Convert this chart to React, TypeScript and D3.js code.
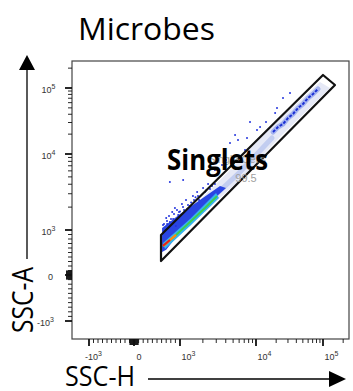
import React from 'react';
import * as d3 from 'd3';

// ---- axis ticks ----
const majorTicks = [-1000, 0, 1000, 10000, 100000];
const majorBase = ['-10', '0', '10', '10', '10'];
const majorExp = ['3', '', '3', '4', '5'];

// ---- data (SSC-H, SSC-A) ----
const gate: [number, number][] = [[587, 889], [100000, 157400], [151000, 111000], [587, 311]];
const paleBand: [number, number][] = [
  [1438, 1947], [4550, 6150], [16170, 24800], [90200, 123300], [127200, 100000],
  [22800, 18100], [6150, 4550], [3573, 2800], [2134, 1725],
];
const midBand: [number, number][] = [[2134, 2138], [6150, 5800], [17330, 17500]];
const blueCore: [number, number][] = [
  [610, 1060], [1000, 1620], [1830, 2480], [3360, 3790], [4030, 3570],
  [2340, 2200], [1160, 1130], [700, 560], [610, 510],
];
const cyanBand: [number, number][] = [
  [630, 711], [1355, 1396], [2979, 3070], [3260, 2637], [1355, 1129], [674, 578],
];
const greenLine: [number, number][] = [[630, 644], [891, 867], [1355, 1274], [2134, 1947], [3070, 2800]];
const orangeLine: [number, number][] = [[630, 644], [913, 889]];
const redLine: [number, number][] = [[630, 650], [783, 778]];
const streak: [number, number][] = [
  [17950, 21540], [21300, 25650], [25300, 28500], [30070, 35100], [35650, 40400],
  [42400, 49800], [50250, 57300], [59700, 70500], [70900, 81100], [84200, 96600],
];
const dots: [number, number][] = [
  [630, 1160], [700, 1440], [780, 1270], [830, 1730], [890, 1950], [960, 1570],
  [1060, 2200], [1200, 2480], [1350, 2070], [1480, 2800], [1680, 3160], [2010, 3570],
  [2340, 4030], [2640, 3790], [740, 1060], [910, 1130], [1130, 1830], [1780, 2480],
  [780, 4290], [1100, 4550], [4550, 14700], [5300, 19400], [5800, 16300], [7620, 17500],
  [8340, 30500], [10350, 23100], [11500, 25700], [19300, 41800], [20600, 49800],
  [25300, 70500], [32200, 84000], [14100, 30500], [7160, 11500], [4030, 8340],
  [2884, 6150], [3570, 7160], [660, 990], [720, 1200], [850, 1400], [1000, 1750],
  [1250, 1900], [1400, 2300], [1600, 2700], [2200, 3300],
  [652, 1199], [717, 1313], [804, 1396], [870, 1624], [978, 1725], [1095, 2010],
  [1274, 2134], [1528, 2483], [1725, 2800], [2134, 3162], [2483, 3460], [2884, 4030],
  [761, 1528], [935, 1833],
];

const tf = (v: number) =>
  Math.abs(v) <= 1000 ? v / 1000 : Math.sign(v) * (1 + Math.log10(Math.abs(v) / 1000));
const xS = d3.scaleLinear().domain([-1, 0, 1, 2, 3]).range([89, 134, 180, 256, 323]);
const yS = d3.scaleLinear().domain([-1, 0, 1, 2, 3]).range([321, 275, 230, 154, 88]);
const X = (v: number) => xS(tf(v));
const Y = (v: number) => yS(tf(v));

const line = d3.line<[number, number]>().x((d) => X(d[0])).y((d) => Y(d[1]));
const poly = d3.line<[number, number]>().x((d) => X(d[0])).y((d) => Y(d[1])).curve(d3.curveLinearClosed);

const L = 72, R = 349, T = 61, B = 339;

function minorTicks(): { v: number; len: number }[] {
  const out: { v: number; len: number }[] = [];
  for (let i = 1; i <= 9; i++) {
    out.push({ v: i * 100, len: 4 }, { v: -i * 100, len: 4 });
    out.push({ v: i * 10, len: 6 }, { v: -i * 10, len: 6 });
  }
  [1000, 10000, 100000].forEach((d) => {
    for (let i = 2; i <= 9; i++) out.push({ v: d * i, len: 4 });
  });
  return out;
}

export default function App() {
  const minors = minorTicks();
  const font = "'Open Sans', 'Noto Sans', sans-serif";
  const tickFont = "'Liberation Sans Narrow', 'Liberation Sans', Arial, sans-serif";
  return (
    <svg width={353} height={391} style={{ position: 'absolute', left: 0, top: 0, background: '#fff' }}>
      <rect x={0} y={0} width={353} height={391} fill="#fff" />
      <text x={78} y={40} fontFamily={font} fontSize={31} textLength={137} lengthAdjust="spacingAndGlyphs">Microbes</text>

      {/* frame */}
      <rect x={L} y={T} width={R - L} height={B - T} fill="none" stroke="#444" strokeWidth={1.2} />

      {/* y ticks */}
      {minors.filter((m) => Y(m.v) > T && Y(m.v) < B).map((m, i) => (
        <line key={'ym' + i} x1={L - m.len} x2={L} y1={Y(m.v)} y2={Y(m.v)} stroke="#111" strokeWidth={0.9} />
      ))}
      {majorTicks.map((v, i) => (
        <line key={'yM' + i} x1={L - 7} x2={L} y1={Y(v)} y2={Y(v)} stroke="#111" strokeWidth={1.8} />
      ))}
      {majorTicks.map((v, i) => (
        <text key={'yl' + i} x={v === 0 ? 53 : v < 0 ? 54 : 55.5} y={Y(v) + 5} textAnchor="end" fontFamily={tickFont} fontSize={9} fill="#333">
          {majorBase[i]}
          {majorExp[i] && <tspan dy={-4} fontSize={7}>{majorExp[i]}</tspan>}
        </text>
      ))}

      {/* x ticks */}
      {minors.filter((m) => X(m.v) > L && X(m.v) < R).map((m, i) => (
        <line key={'xm' + i} x1={X(m.v)} x2={X(m.v)} y1={B} y2={B + m.len} stroke="#111" strokeWidth={0.9} />
      ))}
      {majorTicks.map((v, i) => (
        <line key={'xM' + i} x1={X(v)} x2={X(v)} y1={B} y2={B + 7} stroke="#111" strokeWidth={1.8} />
      ))}
      {majorTicks.map((v, i) => (
        <text key={'xl' + i} x={X(v) + (v < 0 ? -4 : v === 0 ? 2.5 : 1.5)} y={360} textAnchor="start" fontFamily={tickFont} fontSize={9} fill="#333">
          {majorBase[i]}
          {majorExp[i] && <tspan dy={-4} fontSize={7}>{majorExp[i]}</tspan>}
        </text>
      ))}

      {/* density */}
      <path d={poly(paleBand) || ''} fill="#e6e9f6" />
      <path d={line(midBand) || ''} fill="none" stroke="#b9c5ef" strokeWidth={5} strokeLinecap="round" opacity={0.8} />
      <path d={line(streak) || ''} fill="none" stroke="#a5b4f0" strokeWidth={5} strokeLinecap="round" />
      <path d={line(streak) || ''} fill="none" stroke="#1b2fd4" strokeWidth={2} strokeDasharray="3 1.5" />
      <path d={poly(blueCore) || ''} fill="#2a45e2" />
      <path d={poly(cyanBand) || ''} fill="#35b4ee" />
      <path d={line(greenLine) || ''} fill="none" stroke="#3ecf4c" strokeWidth={1.8} />
      <path d={line(orangeLine) || ''} fill="none" stroke="#ff8a10" strokeWidth={2.3} />
      <path d={line(redLine) || ''} fill="none" stroke="#e32020" strokeWidth={2} />
      {dots.map((d, i) => (
        <circle key={'d' + i} cx={X(d[0])} cy={Y(d[1])} r={1} fill="#2233dd" />
      ))}

      {/* gate */}
      <path d={poly(gate) || ''} fill="none" stroke="#111" strokeWidth={2.2} strokeLinejoin="round" />

      {/* gate label */}
      <text x={237} y={163} textAnchor="middle" fontFamily="'Liberation Sans', Arial, sans-serif" fontSize={11} fill="#a0a0a0">Single Cells</text>
      <text x={246} y={182} textAnchor="middle" fontFamily="'Liberation Sans', Arial, sans-serif" fontSize={11} fill="#a0a0a0">99.5</text>
      <text x={167} y={170} fontFamily={font} fontWeight="bold" fontSize={29} textLength={101} lengthAdjust="spacingAndGlyphs">Singlets</text>

      {/* axis titles & arrows */}
      <line x1={27} x2={27} y1={259} y2={68} stroke="#000" strokeWidth={1.3} />
      <path d="M27,55 L19,70 L35,70 Z" fill="#000" />
      <text transform="translate(33,333) rotate(-90)" fontFamily={font} fontSize={29} textLength={66} lengthAdjust="spacingAndGlyphs">SSC-A</text>
      <text x={65} y={386} fontFamily={font} fontSize={28} textLength={70} lengthAdjust="spacingAndGlyphs">SSC-H</text>
      <line x1={148} x2={332} y1={379} y2={379} stroke="#000" strokeWidth={1.3} />
      <path d="M346,379 L329,371 L329,387 Z" fill="#000" />
    </svg>
  );
}
